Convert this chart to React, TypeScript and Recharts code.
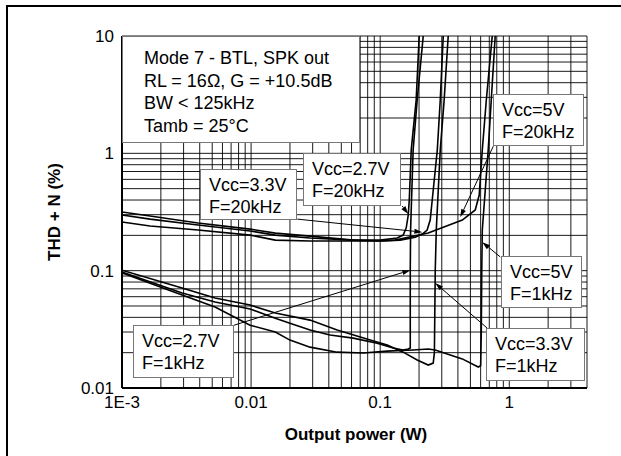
import React from 'react';
import { LineChart, Line, XAxis, YAxis, CartesianGrid, ReferenceLine } from 'recharts';

// output power (W), THD+N (%) pairs
const vcc27_20k = [
  [0.001, 0.316], [0.00165, 0.292], [0.00388, 0.255], [0.00982, 0.226], [0.0154, 0.209],
  [0.0286, 0.197], [0.0618, 0.182], [0.1, 0.182], [0.1355, 0.19], [0.1507, 0.201],
  [0.159, 0.231], [0.165, 0.298], [0.168, 0.4], [0.174, 1.07], [0.19, 2.85], [0.2005, 10],
];
const vcc33_20k = [
  [0.001, 0.298], [0.00165, 0.275], [0.00388, 0.245], [0.00982, 0.218], [0.0154, 0.201],
  [0.0286, 0.19], [0.0618, 0.182], [0.1, 0.179], [0.143, 0.182], [0.1866, 0.193],
  [0.212, 0.205], [0.231, 0.222], [0.244, 0.27], [0.253, 0.4], [0.277, 1.07], [0.292, 2.85], [0.308, 10],
];
const vcc5_20k = [
  [0.001, 0.26], [0.00165, 0.24], [0.00388, 0.222], [0.00982, 0.201], [0.0154, 0.182],
  [0.0286, 0.179], [0.0618, 0.179], [0.1, 0.179], [0.1306, 0.182], [0.2355, 0.209],
  [0.4325, 0.27], [0.545, 0.329], [0.585, 0.441], [0.618, 1.07], [0.664, 2.85], [0.738, 10],
];
const vcc27_1k = [
  [0.001, 0.0973], [0.00292, 0.0644], [0.00526, 0.054], [0.00982, 0.0471], [0.0154, 0.0394],
  [0.02, 0.0357], [0.0286, 0.0312], [0.0409, 0.0283], [0.0618, 0.0266], [0.0948, 0.0241],
  [0.126, 0.0219], [0.1507, 0.0211], [0.165, 0.0215], [0.171, 0.0219], [0.171, 0.1],
  [0.172, 0.222], [0.18, 1.07], [0.1935, 2.85], [0.2155, 10],
];
const vcc33_1k = [
  [0.001, 0.101], [0.00292, 0.0711], [0.00526, 0.0584], [0.00982, 0.0509], [0.0154, 0.0435],
  [0.0286, 0.0379], [0.0464, 0.0312], [0.0836, 0.0256], [0.1133, 0.0232], [0.1507, 0.0202],
  [0.1935, 0.0173], [0.2355, 0.0157], [0.2575, 0.0163], [0.263, 0.02], [0.267, 0.1],
  [0.272, 0.222], [0.292, 1.07], [0.313, 2.85], [0.3365, 10],
];
const vcc5_1k = [
  [0.001, 0.0955], [0.00292, 0.062], [0.00526, 0.049], [0.00982, 0.0343], [0.0154, 0.03],
  [0.02, 0.0256], [0.0286, 0.0223], [0.0464, 0.0202], [0.0738, 0.0199], [0.1133, 0.0206],
  [0.18, 0.0211], [0.2355, 0.0215], [0.267, 0.0211], [0.349, 0.0191], [0.4325, 0.0177],
  [0.575, 0.0151], [0.6, 0.0155], [0.607, 0.03], [0.612, 0.1], [0.618, 0.222],
  [0.687, 1.07], [0.725, 2.85], [0.778, 10],
];

const curves = [vcc27_20k, vcc33_20k, vcc5_20k, vcc27_1k, vcc33_1k, vcc5_1k];

const xTicks = [
  0.001, 0.002, 0.003, 0.004, 0.005, 0.006, 0.007, 0.008, 0.009,
  0.01, 0.02, 0.03, 0.04, 0.05, 0.06, 0.07, 0.08, 0.09,
  0.1, 0.2, 0.3, 0.4, 0.5, 0.6, 0.7, 0.8, 0.9,
  1, 2, 3, 4,
];
const yTicks = [
  0.01, 0.02, 0.03, 0.04, 0.05, 0.06, 0.07, 0.08, 0.09,
  0.1, 0.2, 0.3, 0.4, 0.5, 0.6, 0.7, 0.8, 0.9,
  1, 2, 3, 4, 5, 6, 7, 8, 9, 10,
];
const xLabels: Record<string, string> = { '0.001': '1E-3', '0.01': '0.01', '0.1': '0.1', '1': '1' };
const yLabels: Record<string, string> = { '0.01': '0.01', '0.1': '0.1', '1': '1', '10': '10' };

// annotation arrows: [from P, from THD, to P, to THD]
const arrows = [
  [0.148, 0.356, 0.165, 0.304],
  [0.0228, 0.275, 0.212, 0.213],
  [0.752, 1.15, 0.417, 0.286],
  [0.851, 0.131, 0.618, 0.175],
  [0.674, 0.0324, 0.267, 0.0784],
  [0.00738, 0.0343, 0.171, 0.101],
];

const infoLines = ['Mode 7 - BTL, SPK out', 'RL = 16Ω, G = +10.5dB', 'BW < 125kHz', 'Tamb = 25°C'];

const labels = [
  { lines: ['Vcc=3.3V', 'F=20kHz'], left: 200, top: 169, width: 97, height: 51 },
  { lines: ['Vcc=2.7V', 'F=20kHz'], left: 303, top: 153, width: 98, height: 53 },
  { lines: ['Vcc=5V', 'F=20kHz'], left: 493, top: 94, width: 91, height: 52 },
  { lines: ['Vcc=5V', 'F=1kHz'], left: 501, top: 256, width: 81, height: 52 },
  { lines: ['Vcc=3.3V', 'F=1kHz'], left: 486, top: 328, width: 99, height: 53 },
  { lines: ['Vcc=2.7V', 'F=1kHz'], left: 133, top: 325, width: 101, height: 53 },
];

const FONT = '"Liberation Sans", Arial, sans-serif';

const ArrowShape = (props: any) => {
  const { x1, y1, x2, y2 } = props;
  const a = Math.atan2(y2 - y1, x2 - x1);
  const len = 8;
  const w = 2.5;
  const bx = x2 - len * Math.cos(a);
  const by = y2 - len * Math.sin(a);
  const p1 = `${bx + w * Math.sin(a)},${by - w * Math.cos(a)}`;
  const p2 = `${bx - w * Math.sin(a)},${by + w * Math.cos(a)}`;
  return (
    <g>
      <line x1={x1} y1={y1} x2={bx} y2={by} stroke="#000" strokeWidth={1} />
      <polygon points={`${x2},${y2} ${p1} ${p2}`} fill="#000" />
    </g>
  );
};

export default function App() {
  return (
    <div style={{ position: 'absolute', left: 0, top: 0, width: 621, height: 456, background: '#fff', fontFamily: FONT, overflow: 'hidden' }}>
      <div style={{ position: 'absolute', left: 6, top: 5, width: 620, height: 460, borderTop: '2px solid #000', borderLeft: '2px solid #000' }} />
      <div style={{ position: 'absolute', left: 0, top: 0 }}>
        <LineChart width={621} height={456} margin={{ top: 36, right: 34, bottom: 38, left: 62 }}>
          <CartesianGrid stroke="#000" strokeWidth={1} strokeOpacity={0.9} />
          <XAxis
            dataKey="p"
            type="number"
            scale="log"
            domain={[0.001, 4]}
            ticks={xTicks}
            interval={0}
            allowDataOverflow
            height={30}
            tickLine={false}
            axisLine={{ stroke: '#000', strokeWidth: 2 }}
            tick={{ fill: '#000', fontSize: 17, fontFamily: FONT }}
            tickFormatter={(v: number) => xLabels[String(v)] ?? ''}
          />
          <YAxis
            dataKey="thd"
            type="number"
            scale="log"
            domain={[0.01, 10]}
            ticks={yTicks}
            interval={0}
            allowDataOverflow
            width={60}
            tickLine={false}
            axisLine={{ stroke: '#000', strokeWidth: 2 }}
            tick={{ fill: '#000', fontSize: 17, fontFamily: FONT }}
            tickFormatter={(v: number) => yLabels[String(v)] ?? ''}
          />
          {curves.map((c, i) => (
            <Line
              key={i}
              data={c.map(([p, thd]) => ({ p, thd }))}
              dataKey="thd"
              type="linear"
              stroke="#000"
              strokeWidth={1.6}
              dot={false}
              isAnimationActive={false}
            />
          ))}
          {arrows.map(([px1, t1, px2, t2], i) => (
            <ReferenceLine
              key={'a' + i}
              segment={[{ x: px1, y: t1 }, { x: px2, y: t2 }]}
              ifOverflow="visible"
              shape={ArrowShape}
            />
          ))}
        </LineChart>
      </div>

      <div style={{ position: 'absolute', left: 122, top: 36, width: 238, height: 107, background: '#fff', border: '1px solid #777', fontSize: 18, lineHeight: '22.5px', padding: '10px 0 0 21px', boxSizing: 'border-box', color: '#000' }}>
        {infoLines.map((l) => (
          <div key={l}>{l}</div>
        ))}
      </div>

      {labels.map((b) => (
        <div
          key={b.lines.join()}
          style={{ position: 'absolute', left: b.left, top: b.top, width: b.width, height: b.height, background: '#fff', border: '1px solid #777', boxSizing: 'border-box', fontSize: 18, lineHeight: '22px', padding: '4px 0 0 8px', color: '#000', whiteSpace: 'nowrap' }}
        >
          {b.lines.map((l) => (
            <div key={l}>{l}</div>
          ))}
        </div>
      ))}

      <div style={{ position: 'absolute', left: 256, top: 425, width: 200, textAlign: 'center', fontSize: 17, fontWeight: 'bold', color: '#000' }}>
        Output power (W)
      </div>
      <div style={{ position: 'absolute', left: 55, top: 212, width: 0, height: 0 }}>
        <div style={{ position: 'absolute', left: -70, top: -11, width: 140, textAlign: 'center', fontSize: 17, lineHeight: '22px', fontWeight: 'bold', transform: 'rotate(-90deg)', whiteSpace: 'nowrap', color: '#000' }}>
          THD + N (%)
        </div>
      </div>
    </div>
  );
}
